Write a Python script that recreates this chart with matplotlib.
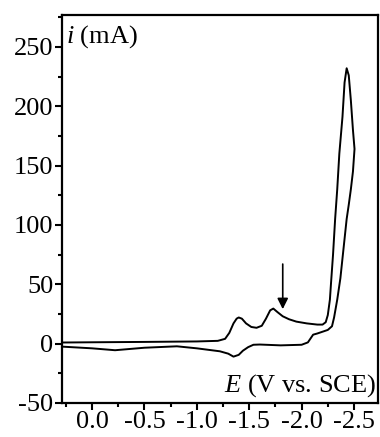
import matplotlib
matplotlib.use("Agg")
import matplotlib.pyplot as plt
from matplotlib.ticker import MultipleLocator, FormatStrFormatter

plt.rcParams['font.family'] = 'Liberation Serif'
plt.rcParams['axes.unicode_minus'] = False
plt.rcParams['mathtext.fontset'] = 'custom'
plt.rcParams['mathtext.it'] = 'Liberation Serif:italic'
plt.rcParams['mathtext.rm'] = 'Liberation Serif'

# forward (cathodic) scan
E_fwd = [0.28, 0.0, -0.5, -1.0, -1.2, -1.27, -1.31, -1.35, -1.38, -1.40, -1.43,
         -1.47, -1.52, -1.57, -1.62, -1.66, -1.70, -1.73, -1.77, -1.82, -1.88,
         -1.95, -2.05, -2.15, -2.20, -2.23, -2.25, -2.27, -2.28, -2.30, -2.32,
         -2.34, -2.36, -2.39, -2.41, -2.43, -2.45, -2.47, -2.49, -2.505]
i_fwd = [0.9, 1.1, 1.4, 1.8, 2.3, 4, 9, 17, 21, 22, 21,
         17, 14, 13.3, 15, 21, 28, 29.5, 26.5, 23, 20.5,
         18.5, 17, 16, 16, 18, 24, 37, 50, 75, 105,
         130, 160, 191, 220, 232, 226, 205, 180, 164]

# reverse (anodic) scan
E_rev = [-2.505, -2.49, -2.47, -2.45, -2.43, -2.40, -2.37, -2.34, -2.31,
         -2.29, -2.25, -2.20, -2.15, -2.11, -2.06, -2.00, -1.80, -1.60, -1.54,
         -1.49, -1.44, -1.40, -1.35, -1.30, -1.22, -1.0, -0.81, -0.5, -0.22,
         0.0, 0.28]
i_rev = [164, 145, 130, 117, 105, 80, 55, 37, 22,
         14.6, 11.5, 10, 8.5, 7.5, 1, -1, -1.5, -0.8, -1,
         -3, -6, -9.5, -11, -8.5, -6.5, -4, -2.3, -3.5, -5.6,
         -4, -2.6]

arrow_E = -1.82
arrow_top, arrow_tip = 67, 29

fig = plt.figure(figsize=(3.8, 4.37), dpi=100)
ax = fig.add_axes([0.163, 0.078, 0.832, 0.888])

ax.plot(E_fwd + E_rev[1:], i_fwd + i_rev[1:], color='black', lw=1.4,
        solid_joinstyle='round')

ax.annotate('', xy=(arrow_E, arrow_tip), xytext=(arrow_E, arrow_top),
            arrowprops=dict(arrowstyle='-|>', color='black', lw=1.2,
                            mutation_scale=16, shrinkA=0, shrinkB=0))

ax.set_xlim(0.287, -2.73)
ax.set_ylim(-50, 277)

ax.xaxis.set_major_locator(MultipleLocator(0.5))
ax.xaxis.set_minor_locator(MultipleLocator(0.25))
ax.yaxis.set_major_locator(MultipleLocator(50))
ax.yaxis.set_minor_locator(MultipleLocator(25))
ax.xaxis.set_major_formatter(FormatStrFormatter('%.1f'))
ax.yaxis.set_major_formatter(FormatStrFormatter('%d'))

for s in ax.spines.values():
    s.set_linewidth(1.6)
ax.tick_params(which='both', direction='out', width=1.5, labelsize=19,
               top=False, right=False)
ax.tick_params(which='major', length=5, pad=1)
ax.tick_params(which='minor', length=3)

ax.text(0.012, 0.945, r'$i$ (mA)', transform=ax.transAxes, fontsize=19,
        ha='left', va='center')
ax.text(0.995, 0.045, r'$E$ (V vs. SCE)', transform=ax.transAxes, fontsize=19,
        ha='right', va='center')

fig.savefig('out.png', dpi=100)
